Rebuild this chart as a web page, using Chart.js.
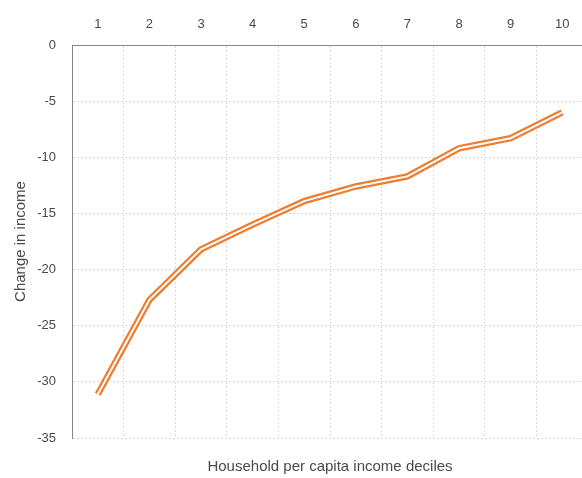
<!DOCTYPE html>
<html>
<head>
<meta charset="utf-8">
<script src="https://cdn.jsdelivr.net/npm/chart.js@4"></script>
<style>
  html, body { margin: 0; padding: 0; background: #fff; overflow: hidden; }
  #wrap { width: 590px; height: 478px; position: relative; }
</style>
</head>
<body>
<div id="wrap"><canvas id="c"></canvas></div>
<script>
const categories = ['1', '2', '3', '4', '5', '6', '7', '8', '9', '10'];
const changeInIncome = [-31.1, -22.7, -18.2, -16.0, -13.9, -12.6, -11.7, -9.2, -8.3, -6.0];
const yTicks = [0, -5, -10, -15, -20, -25, -30, -35];
const xTitle = 'Household per capita income deciles';
const yTitle = 'Change in income';

const textColor = '#4a4a4a';
const gridColor = '#d9d9d9';
const axisColor = '#868686';
const lineColor = '#ED7D31';

Chart.defaults.font.family = "'Liberation Sans', Arial, sans-serif";
Chart.defaults.font.size = 13;
Chart.defaults.color = textColor;

new Chart(document.getElementById('c'), {
  type: 'line',
  data: {
    labels: categories,
    datasets: [
      {
        data: changeInIncome,
        borderColor: '#ffffff',
        borderWidth: 2,
        pointRadius: 0,
        tension: 0,
        xAxisID: 'x',
        yAxisID: 'y',
        order: 0
      },
      {
        data: changeInIncome,
        borderColor: lineColor,
        borderWidth: 6.5,
        pointRadius: 0,
        tension: 0,
        xAxisID: 'x',
        yAxisID: 'y',
        order: 1
      }
    ]
  },
  options: {
    responsive: true,
    maintainAspectRatio: false,
    animation: false,
    layout: { padding: { left: 0, right: 2, top: 0, bottom: 0 } },
    plugins: { legend: { display: false }, tooltip: { enabled: false } },
    scales: {
      x: {
        type: 'category',
        position: 'top',
        offset: true,
        grid: {
          offset: true,
          color: gridColor,
          lineWidth: 1,
          drawTicks: false
        },
        border: { display: true, color: axisColor, width: 1, dash: [2, 2] },
        ticks: { padding: 13, color: textColor, font: { size: 13 } },
        afterFit: s => { s.height = 45; }
      },
      x2: {
        type: 'category',
        position: 'bottom',
        labels: categories,
        grid: { display: false, drawTicks: false },
        border: { display: false },
        ticks: { display: false },
        title: {
          display: true,
          text: xTitle,
          color: textColor,
          font: { size: 15 },
          padding: { top: 0, bottom: 2 }
        },
        afterFit: s => { s.height = 40; }
      },
      y: {
        min: -35,
        max: 0,
        afterBuildTicks: s => { s.ticks = yTicks.map(v => ({ value: v })); },
        grid: {
          color: gridColor,
          lineWidth: 1,
          drawTicks: false
        },
        border: { display: true, color: axisColor, width: 1, dash: [2, 2] },
        ticks: { padding: 16, color: textColor, font: { size: 13 } },
        title: {
          display: true,
          text: yTitle,
          color: textColor,
          font: { size: 15 },
          padding: { top: 12, bottom: 0 }
        },
        afterFit: s => { s.width = 72; }
      }
    }
  }
});
</script>
</body>
</html>
